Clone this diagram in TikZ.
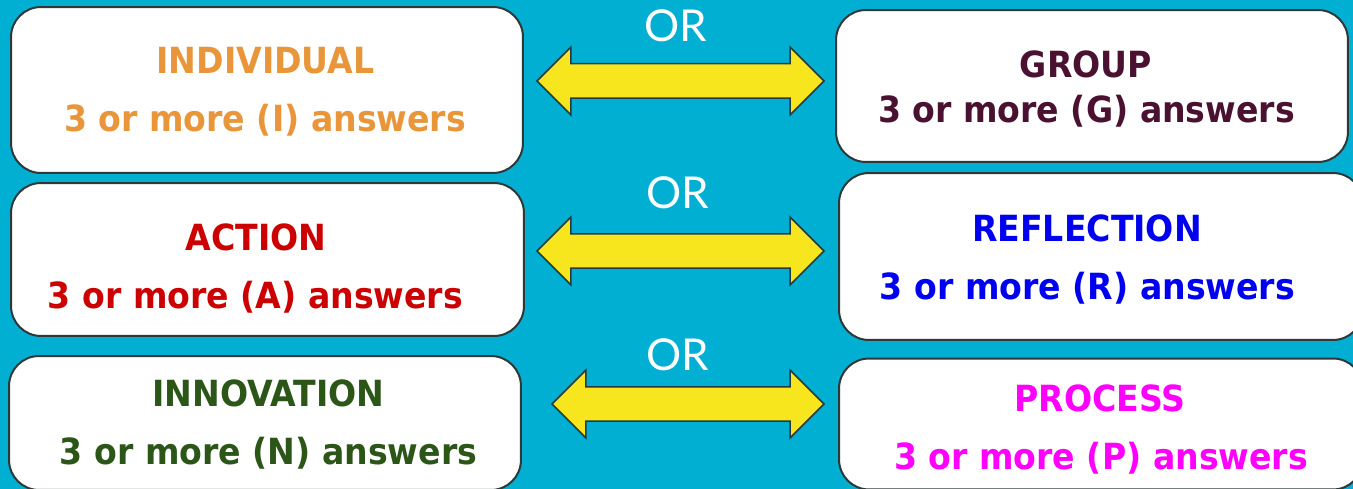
\documentclass[tikz,border=0pt]{standalone}
\usepackage{fontspec}
\newfontfamily\comicfont[FakeStretch=0.92]{DejaVu Sans}
\newfontfamily\orfont{Lato}
\usepackage{tikz}
\usetikzlibrary{shapes.arrows}

\definecolor{bgblue}{HTML}{00AFD1}
\definecolor{boxline}{HTML}{2E3838}
\definecolor{arrowline}{HTML}{263A40}
\definecolor{arrowyellow}{HTML}{F7E61E}
\definecolor{indorange}{HTML}{E9963A}
\definecolor{actred}{HTML}{CC0000}
\definecolor{innogreen}{HTML}{2C5518}
\definecolor{grppurple}{HTML}{4A1230}
\definecolor{refblue}{HTML}{0000F0}
\definecolor{procpink}{HTML}{FF00FF}

\begin{document}
\begin{tikzpicture}[x=0.02cm, y=-0.02cm,
    box/.style={draw=boxline, line width=0.04cm, fill=white, rounded corners=0.6cm, inner sep=0},
    boxtext/.style={anchor=base, font=\comicfont\bfseries\fontsize{20.5}{24}\selectfont},
    ortext/.style={anchor=base, text=white, font=\orfont\fontsize{25}{30}\selectfont},
    bigarrow/.style={shape=double arrow, draw=arrowline, fill=arrowyellow, line width=0.03cm,
        inner xsep=0, inner ysep=0.33cm, double arrow head extend=0.33cm,
        double arrow tip angle=90, minimum width=1.32cm, minimum height=5.74cm}]
    \clip (0,0) rectangle (1353,489);
    \fill[bgblue] (0,0) rectangle (1353,489);
    % left column
    \node[box, minimum width=10.24cm, minimum height=3.32cm] (indiv) at (267,90){};
    \node[box, minimum width=10.26cm, minimum height=3.06cm] (action) at (267.5,259.5){};
    \node[box, minimum width=10.24cm, minimum height=2.68cm] (innov) at (265,423){};
    % right column
    \node[box, minimum width=10.24cm, minimum height=3.04cm] (group) at (1092,86){};
    \node[box, minimum width=10.48cm, minimum height=3.34cm] (reflect) at (1101,256.5){};
    \node[box, minimum width=10.48cm, minimum height=2.62cm] (process) at (1101,424){};
    % texts
    \node[boxtext, text=indorange] (indivT) at (265.5,74){INDIVIDUAL};
    \node[boxtext, text=indorange] (indivA) at (265,132){3 or more (I) answers};
    \node[boxtext, text=actred] (actionT) at (256,251){ACTION};
    \node[boxtext, text=actred] (actionA) at (255.5,309){3 or more (A) answers};
    \node[boxtext, text=innogreen] (innovT) at (268.5,407){INNOVATION};
    \node[boxtext, text=innogreen] (innovA) at (268.5,465){3 or more (N) answers};
    \node[boxtext, text=grppurple] (groupT) at (1086,78){GROUP};
    \node[boxtext, text=grppurple] (groupA) at (1086.5,123){3 or more (G) answers};
    \node[boxtext, text=refblue] (reflectT) at (1087,242){REFLECTION};
    \node[boxtext, text=refblue] (reflectA) at (1087.5,300){3 or more (R) answers};
    \node[boxtext, text=procpink] (processT) at (1100,412){PROCESS};
    \node[boxtext, text=procpink] (processA) at (1101,470){3 or more (P) answers};
    % arrows and OR
    \node[bigarrow] (arrIG) at (680.5,81){};
    \node[bigarrow] (arrAR) at (680.5,251){};
    \node[bigarrow, minimum height=5.44cm] (arrNP) at (688,404){};
    \node[ortext] (or1) at (676,42){OR};
    \node[ortext] (or2) at (678,209){OR};
    \node[ortext] (or3) at (678,371){OR};
\end{tikzpicture}
\end{document}
